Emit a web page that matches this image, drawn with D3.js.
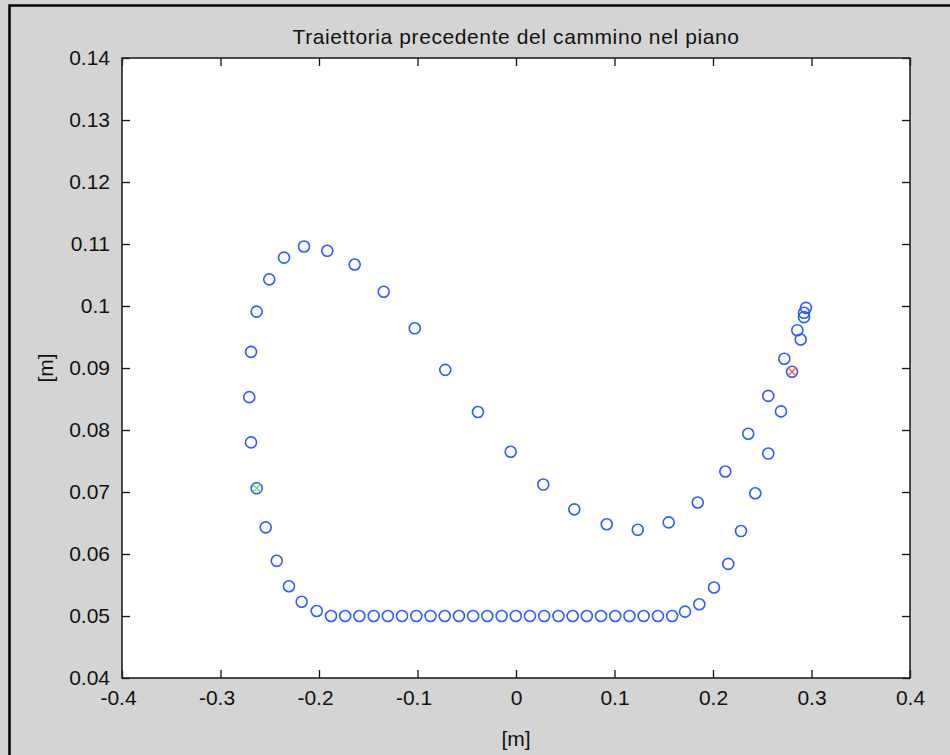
<!DOCTYPE html>
<html>
<head>
<meta charset="utf-8">
<script src="https://cdn.jsdelivr.net/npm/d3@7"></script>
<style>
  html, body { margin: 0; padding: 0; background: #d4d4d4; }
  svg { display: block; }
  text { font-family: "Liberation Sans", Arial, sans-serif; fill: #111; }
</style>
</head>
<body>
<script>
// Trajectory samples in the plane (metres)
const pathX = [
  -0.2690, -0.2708, -0.2690, -0.2633, -0.2505, -0.2355, -0.2152, -0.1916, -0.1638, -0.1343,
  -0.1028, -0.0718, -0.0386, -0.0054, 0.0277, 0.0592, 0.0921, 0.1236, 0.1550, 0.1845,
  0.2125, 0.2358, 0.2561, 0.2724, 0.2856, 0.2944,
  -0.2541, -0.2429, -0.2305, -0.2176, -0.2023,
  -0.1878, -0.1734, -0.1590, -0.1445, -0.1301, -0.1157, -0.1012, -0.0868, -0.0724, -0.0579,
  -0.0435, -0.0291, -0.0146, -0.0002, 0.0142, 0.0286, 0.0431, 0.0575, 0.0719, 0.0863,
  0.1008, 0.1152, 0.1296, 0.1441, 0.1585,
  0.1716, 0.1861, 0.2010, 0.2155, 0.2284, 0.2429, 0.2561, 0.2690, 0.2890, 0.2924, 0.2924
];
const pathY = [
  0.0780, 0.0853, 0.0926, 0.0991, 0.1043, 0.1078, 0.1096, 0.1089, 0.1067, 0.1023,
  0.0964, 0.0897, 0.0829, 0.0765, 0.0712, 0.0672, 0.0648, 0.0639, 0.0651, 0.0683,
  0.0733, 0.0794, 0.0855, 0.0915, 0.0961, 0.0997,
  0.0643, 0.0589, 0.0548, 0.0523, 0.0508,
  0.0500, 0.0500, 0.0500, 0.0500, 0.0500, 0.0500, 0.0500, 0.0500, 0.0500, 0.0500,
  0.0500, 0.0500, 0.0500, 0.0500, 0.0500, 0.0500, 0.0500, 0.0500, 0.0500, 0.0500,
  0.0500, 0.0500, 0.0500, 0.0500, 0.0500,
  0.0507, 0.0519, 0.0546, 0.0584, 0.0637, 0.0698, 0.0762, 0.0830, 0.0946, 0.0989, 0.0982
];
// Start (green) and end (red) positions
const startPoint = [-0.2633, 0.0706];
const endPoint = [0.2802, 0.0894];

const xTicks = [-0.4, -0.3, -0.2, -0.1, 0, 0.1, 0.2, 0.3, 0.4];
const xTickLabels = ["-0.4", "-0.3", "-0.2", "-0.1", "0", "0.1", "0.2", "0.3", "0.4"];
const yTicks = [0.04, 0.05, 0.06, 0.07, 0.08, 0.09, 0.10, 0.11, 0.12, 0.13, 0.14];
const yTickLabels = ["0.04", "0.05", "0.06", "0.07", "0.08", "0.09", "0.1", "0.11", "0.12", "0.13", "0.14"];

const chartTitle = "Traiettoria precedente del cammino nel piano";
const xLabel = "[m]";
const yLabel = "[m]";

const W = 950, H = 755;
const plot = { left: 122, top: 58, right: 910, bottom: 678 };
const fontSize = 21;

const svg = d3.select("body").append("svg").attr("width", W).attr("height", H);

// figure window
svg.append("rect").attr("x", 0).attr("y", 0).attr("width", W).attr("height", H).attr("fill", "#d4d4d4");
svg.append("rect").attr("x", 9.5).attr("y", 5.5).attr("width", W + 20).attr("height", H + 20)
  .attr("fill", "none").attr("stroke", "#000").attr("stroke-width", 2.5);

const x = d3.scaleLinear().domain([-0.4, 0.4]).range([plot.left, plot.right]);
const y = d3.scaleLinear().domain([0.04, 0.14]).range([plot.bottom, plot.top]);

svg.append("rect").attr("x", plot.left).attr("y", plot.top)
  .attr("width", plot.right - plot.left).attr("height", plot.bottom - plot.top)
  .attr("fill", "#fff");

const tick = 8;
const fmtX = d => xTickLabels[xTicks.indexOf(d)];
const fmtY = d => yTickLabels[yTicks.indexOf(d)];

function styleAxis(g) {
  g.select(".domain").remove();
  g.selectAll(".tick line").attr("stroke", "#111").attr("stroke-width", 1.3);
  g.selectAll("text").attr("font-size", fontSize).attr("fill", "#111")
    .attr("font-family", "'Liberation Sans', Arial, sans-serif");
}

svg.append("g").attr("transform", `translate(0,${plot.bottom})`)
  .call(d3.axisBottom(x).tickValues(xTicks).tickFormat(fmtX).tickSize(-tick).tickSizeOuter(0).tickPadding(12))
  .call(styleAxis)
  .call(g => g.selectAll(".tick text").attr("dx", d => d < 0 ? -4 : 0));
svg.append("g").attr("transform", `translate(0,${plot.top})`)
  .call(d3.axisTop(x).tickValues(xTicks).tickFormat("").tickSize(-tick).tickSizeOuter(0))
  .call(styleAxis);
svg.append("g").attr("transform", `translate(${plot.left},0)`)
  .call(d3.axisLeft(y).tickValues(yTicks).tickFormat(fmtY).tickSize(-tick).tickSizeOuter(0).tickPadding(12))
  .call(styleAxis);
svg.append("g").attr("transform", `translate(${plot.right},0)`)
  .call(d3.axisRight(y).tickValues(yTicks).tickFormat("").tickSize(-tick).tickSizeOuter(0))
  .call(styleAxis);

// axes box
svg.append("rect").attr("x", plot.left).attr("y", plot.top)
  .attr("width", plot.right - plot.left).attr("height", plot.bottom - plot.top)
  .attr("fill", "none").attr("stroke", "#222").attr("stroke-width", 1.6);

// trajectory markers
const pts = pathX.map((v, i) => [v, pathY[i]]).concat([startPoint, endPoint]);
svg.append("g").selectAll("circle").data(pts).join("circle")
  .attr("cx", d => x(d[0])).attr("cy", d => y(d[1])).attr("r", 5.5)
  .attr("fill", "none").attr("stroke", "#2a5cff").attr("stroke-width", 1.6);

function cross(p, color) {
  const cx = x(p[0]), cy = y(p[1]), s = 4;
  svg.append("path")
    .attr("d", `M${cx - s},${cy - s}L${cx + s},${cy + s}M${cx - s},${cy + s}L${cx + s},${cy - s}`)
    .attr("stroke", color).attr("stroke-width", 1.4).attr("fill", "none");
}
cross(startPoint, "#6fdc5a");
cross(endPoint, "#ff5a4a");

// titles
svg.append("text").attr("x", (plot.left + plot.right) / 2).attr("y", 44)
  .attr("text-anchor", "middle").attr("font-size", fontSize).attr("letter-spacing", 0.6).text(chartTitle);
svg.append("text").attr("x", (plot.left + plot.right) / 2).attr("y", 746)
  .attr("text-anchor", "middle").attr("font-size", fontSize).text(xLabel);
svg.append("text").attr("transform", `translate(53,${(plot.top + plot.bottom) / 2}) rotate(-90)`)
  .attr("text-anchor", "middle").attr("font-size", fontSize).text(yLabel);
</script>
</body>
</html>
